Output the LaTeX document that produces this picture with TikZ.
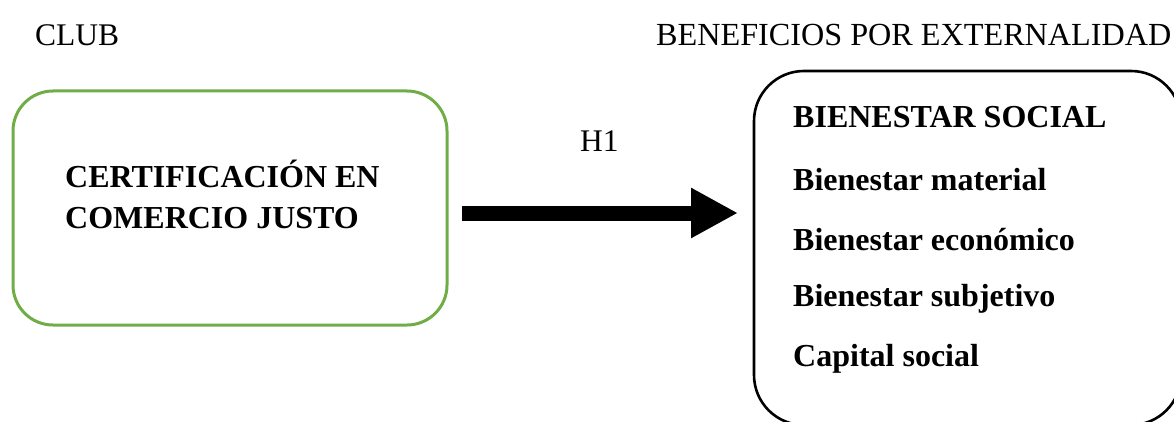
\documentclass[tikz,border=0pt]{standalone}
\usepackage{fontspec}
\setmainfont{Liberation Serif}
\usetikzlibrary{arrows.meta}
\definecolor{boxgreen}{RGB}{112,173,71}
\tikzset{
  lbl/.style={font=\fontsize{31.5}{36}\selectfont, inner sep=0pt, anchor=base west},
  wlbl/.style={lbl, font=\fontsize{32.2}{36}\selectfont},
  blbl/.style={lbl, font=\fontsize{32}{36}\selectfont\bfseries},
  greenbox/.style={draw=boxgreen, line width=3pt, rounded corners=40pt, minimum width=434pt, minimum height=234pt, inner sep=0pt},
  blackbox/.style={draw=black, line width=2.6pt, rounded corners=50pt, minimum width=427pt, minimum height=354pt, inner sep=0pt},
  bigarrow/.style={line width=15pt, -{Triangle[length=47pt,width=47pt]}}
}
\begin{document}
\begin{tikzpicture}[x=1pt,y=-1pt]
\useasboundingbox (0,0) rectangle (1174,422);
\clip (0,0) rectangle (1174,422);
\fill[white] (0,0) rectangle (1174,422);
\node[lbl] (club) at (35,46) {CLUB};
\node[wlbl] (benef) at (656,46) {BENEFICIOS POR EXTERNALIDAD};
\node[greenbox] (cert) at (230,208) {};
\node[blbl] (certtxt) at (65,188) {CERTIFICACIÓN EN};
\node[blbl] (certtxt2) at (65,228) {COMERCIO JUSTO};
\node[blackbox] (bien) at (967.5,248) {};
\node[lbl] (h1) at (580,152) {H1};
\coordinate (a) at (462,213);
\coordinate (b) at (738,213);
\draw[bigarrow] (a) -- (b);
\node[blbl] (b1) at (793,128) {BIENESTAR SOCIAL};
\node[blbl] (b2) at (793,190) {Bienestar material};
\node[blbl] (b3) at (793,250) {Bienestar económico};
\node[blbl] (b4) at (793,306) {Bienestar subjetivo};
\node[blbl] (b5) at (793,366) {Capital social};
\end{tikzpicture}
\end{document}
